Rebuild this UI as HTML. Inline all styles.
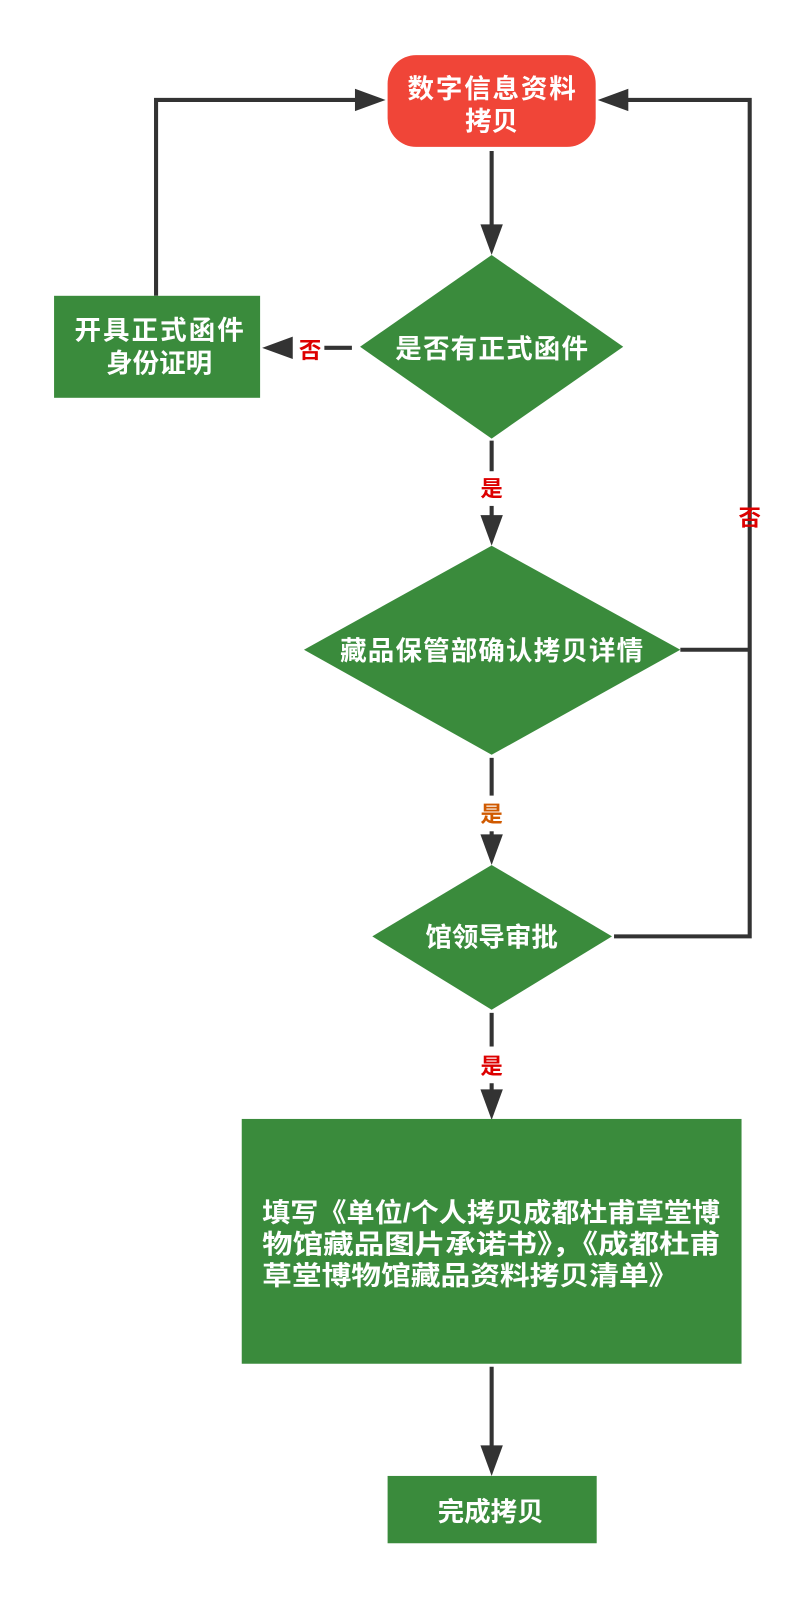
<!DOCTYPE html>
<html><head><meta charset="utf-8"><style>
html,body{margin:0;padding:0;background:#fff;}
svg{display:block}
text{font-family:"Liberation Sans","Noto Sans CJK SC",sans-serif;font-weight:bold;}
</style></head><body>
<svg width="800" height="1598" viewBox="0 0 800 1598" xmlns="http://www.w3.org/2000/svg">
<g transform="scale(1.02)">
<g stroke="#333" stroke-width="4" fill="none">
<line x1="482" y1="148" x2="482" y2="225"/>
<polyline points="153,290 153,98 355,98"/>
<line x1="345" y1="341" x2="318" y2="341"/>
<line x1="482" y1="432" x2="482" y2="462"/>
<line x1="482" y1="496" x2="482" y2="510"/>
<polyline points="667,637 735,637"/>
<polyline points="602,918 735,918 735,98 610,98"/>
<line x1="482" y1="743" x2="482" y2="780"/>
<line x1="482" y1="815" x2="482" y2="825"/>
<line x1="482" y1="993" x2="482" y2="1026"/>
<line x1="482" y1="1062" x2="482" y2="1075"/>
<line x1="482" y1="1340" x2="482" y2="1420"/>
</g>
<g fill="#333">
<polygon points="471,220 493,220 482,250"/>
<polygon points="348,87 348,109 378,98"/>
<polygon points="616,87 616,109 586,98"/>
<polygon points="287,330 287,352 257,341"/>
<polygon points="471,505 493,505 482,535"/>
<polygon points="471,818 493,818 482,848"/>
<polygon points="471,1068 493,1068 482,1098"/>
<polygon points="471,1417 493,1417 482,1447"/>
</g>
<rect x="380" y="54" width="204" height="90" rx="28" fill="#f04538"/>
<text x="482" y="96" font-size="26" fill="#fff" text-anchor="middle" textLength="165">数字信息资料</text>
<text x="482" y="128" font-size="26" fill="#fff" text-anchor="middle">拷贝</text>
<polygon points="482,250 611,340 482,430 353,340" fill="#3a8b3c"/>
<text x="482" y="351" font-size="26" fill="#fff" text-anchor="middle" textLength="189">是否有正式函件</text>
<rect x="53" y="290" width="202" height="100" fill="#3a8b3c"/>
<text x="156" y="333" font-size="26" fill="#fff" text-anchor="middle" textLength="166">开具正式函件</text>
<text x="156" y="365" font-size="26" fill="#fff" text-anchor="middle">身份证明</text>
<text x="304" y="351" font-size="22" fill="#d00" text-anchor="middle">否</text>
<text x="482" y="487" font-size="22" fill="#d00" text-anchor="middle">是</text>
<polygon points="482,535 667,637 482,740 298,637" fill="#3a8b3c"/>
<text x="482" y="647" font-size="26" fill="#fff" text-anchor="middle" textLength="297">藏品保管部确认拷贝详情</text>
<text x="735" y="515" font-size="22" fill="#d00" text-anchor="middle">否</text>
<text x="482" y="806" font-size="22" fill="#d05a00" text-anchor="middle">是</text>
<polygon points="482,848 600,918 482,990 365,918" fill="#3a8b3c"/>
<text x="482" y="928" font-size="26" fill="#fff" text-anchor="middle">馆领导审批</text>
<text x="482" y="1053" font-size="22" fill="#d00" text-anchor="middle">是</text>
<rect x="237" y="1097" width="490" height="240" fill="#3a8b3c"/>
<text x="257" y="1198" font-size="26" fill="#fff" textLength="449" lengthAdjust="spacingAndGlyphs">填写《单位/个人拷贝成都杜甫草堂博</text>
<text x="257" y="1229" font-size="26" fill="#fff" textLength="449" lengthAdjust="spacingAndGlyphs">物馆藏品图片承诺书》，《成都杜甫</text>
<text x="257" y="1260" font-size="26" fill="#fff" textLength="408" lengthAdjust="spacingAndGlyphs">草堂博物馆藏品资料拷贝清单》</text>
<rect x="380" y="1447" width="205" height="66" fill="#3a8b3c"/>
<text x="481" y="1491" font-size="26" fill="#fff" text-anchor="middle">完成拷贝</text>
</g>
</svg>
</body></html>
